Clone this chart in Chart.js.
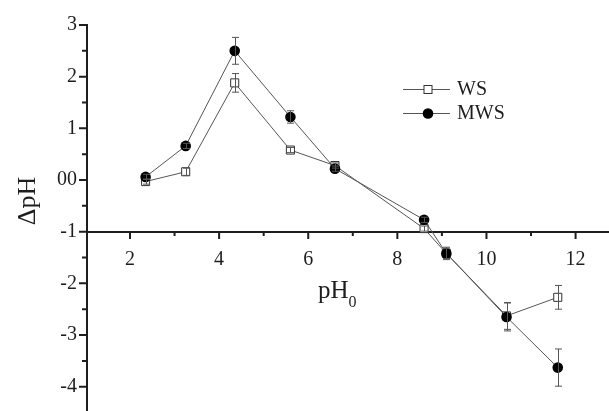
<!DOCTYPE html>
<html>
<head>
<meta charset="utf-8">
<script src="https://cdn.jsdelivr.net/npm/chart.js@4.4.1/dist/chart.umd.min.js"></script>
<style>
  html, body { margin: 0; padding: 0; background: #fff; }
  #wrap { width: 609px; height: 411px; }
</style>
</head>
<body>
<div id="wrap"><canvas id="chart" width="609" height="411"></canvas></div>
<script>
// initial pH vs pH change, with error bars
const pH0 = [2.35, 3.25, 4.35, 5.6, 6.6, 8.6, 9.1, 10.45, 11.6];
const wsValues = [-0.03, 0.16, 1.88, 0.58, 0.28, -0.94, -1.42, -2.63, -2.27];
const wsErrors = [0.05, 0.07, 0.18, 0.05, 0.05, 0.05, 0.1, 0.26, 0.23];
const mwsValues = [0.06, 0.66, 2.5, 1.22, 0.22, -0.77, -1.42, -2.65, -3.63];
const mwsErrors = [0.05, 0.05, 0.26, 0.12, 0.05, 0.05, 0.12, 0.27, 0.36];

const xTicks = [2, 4, 6, 8, 10, 12];
const xMinorTicks = [3, 5, 7, 9, 11];
const yTicks = [-4, -3, -2, -1, 0, 1, 2, 3];
const yTickLabels = ['-4', '-3', '-2', '-1', '00', '1', '2', '3'];
const yMinorTicks = [-3.5, -2.5, -1.5, -0.5, 0.5, 1.5, 2.5];
const seriesNames = ['WS', 'MWS'];

const FONT = "'Liberation Serif', 'Times New Roman', serif";
const INK = '#1e1e1e';
const LINE = '#555';

function toPoints(vals) {
  return pH0.map((x, i) => ({ x, y: vals[i] }));
}

// error bars drawn on top of the markers
const errorBars = {
  id: 'errorBars',
  afterDatasetsDraw(chart) {
    const { ctx, scales: { x, y } } = chart;
    const sets = [[wsValues, wsErrors], [mwsValues, mwsErrors]];
    ctx.save();
    ctx.strokeStyle = LINE;
    ctx.lineWidth = 1;
    sets.forEach(([vals, errs]) => {
      vals.forEach((v, i) => {
        const px = Math.round(x.getPixelForValue(pH0[i])) + 0.5;
        const top = y.getPixelForValue(v + errs[i]);
        const bot = y.getPixelForValue(v - errs[i]);
        ctx.beginPath();
        ctx.moveTo(px, top); ctx.lineTo(px, bot);
        ctx.moveTo(px - 3.5, top); ctx.lineTo(px + 3.5, top);
        ctx.moveTo(px - 3.5, bot); ctx.lineTo(px + 3.5, bot);
        ctx.stroke();
      });
    });
    ctx.restore();
  }
};

function drawMarker(ctx, kind, cx, cy) {
  ctx.save();
  ctx.lineWidth = 1;
  ctx.strokeStyle = '#333';
  if (kind === 'rect') {
    ctx.fillStyle = '#fff';
    ctx.fillRect(cx - 4, cy - 4, 8, 8);
    ctx.strokeRect(cx - 4, cy - 4, 8, 8);
  } else {
    ctx.fillStyle = '#000';
    ctx.beginPath();
    ctx.arc(cx, cy, 5.3, 0, Math.PI * 2);
    ctx.fill();
  }
  ctx.restore();
}

// minor/major tick marks, axis titles, legend
const decorations = {
  id: 'decorations',
  afterDraw(chart) {
    const { ctx, scales: { x, y } } = chart;
    const axisY = Math.round(y.getPixelForValue(-1));
    const axisX = Math.round(x.left);
    ctx.save();
    ctx.strokeStyle = INK;
    ctx.lineWidth = 2;
    ctx.beginPath();
    xTicks.forEach(v => {
      const p = x.getPixelForValue(v);
      ctx.moveTo(p, axisY); ctx.lineTo(p, axisY + 7);
    });
    xMinorTicks.forEach(v => {
      const p = x.getPixelForValue(v);
      ctx.moveTo(p, axisY); ctx.lineTo(p, axisY + 4);
    });
    yTicks.forEach(v => {
      const p = y.getPixelForValue(v);
      ctx.moveTo(axisX, p); ctx.lineTo(axisX - 8, p);
    });
    yMinorTicks.forEach(v => {
      const p = y.getPixelForValue(v);
      ctx.moveTo(axisX, p); ctx.lineTo(axisX - 5, p);
    });
    ctx.stroke();

    // y title
    ctx.fillStyle = INK;
    ctx.font = '26px ' + FONT;
    ctx.textAlign = 'center';
    ctx.textBaseline = 'alphabetic';
    ctx.save();
    ctx.translate(35, 201);
    ctx.rotate(-Math.PI / 2);
    ctx.fillText('\u0394pH', 0, 0);
    ctx.restore();

    // x title with subscript
    ctx.textAlign = 'left';
    ctx.font = '25px ' + FONT;
    ctx.fillText('pH', 318, 298);
    const w = ctx.measureText('pH').width;
    ctx.font = '16px ' + FONT;
    ctx.fillText('0', 318 + w, 307);

    // legend
    const items = [['rect', 89], ['circle', 113]];
    items.forEach(([kind, ly], i) => {
      ctx.strokeStyle = LINE;
      ctx.lineWidth = 1;
      ctx.beginPath();
      ctx.moveTo(403, ly + 0.5); ctx.lineTo(450, ly + 0.5);
      ctx.stroke();
      drawMarker(ctx, kind, 428, ly + 0.5);
      ctx.fillStyle = INK;
      ctx.font = '20px ' + FONT;
      ctx.textBaseline = 'middle';
      ctx.fillText(seriesNames[i], 457, ly + 1);
    });
    ctx.restore();
  }
};

new Chart(document.getElementById('chart'), {
  type: 'scatter',
  data: {
    datasets: [
      {
        label: seriesNames[0],
        data: toPoints(wsValues),
        showLine: true,
        borderColor: LINE,
        borderWidth: 1,
        pointStyle: 'rect',
        pointRadius: 5.7,
        pointBackgroundColor: '#fff',
        pointBorderColor: '#333',
        pointBorderWidth: 1,
        order: 2,
      },
      {
        label: seriesNames[1],
        data: toPoints(mwsValues),
        showLine: true,
        borderColor: LINE,
        borderWidth: 1,
        pointStyle: 'circle',
        pointRadius: 5.3,
        pointBackgroundColor: '#000',
        pointBorderColor: '#000',
        pointBorderWidth: 0,
        order: 1,
      },
    ],
  },
  options: {
    responsive: false,
    animation: false,
    layout: { autoPadding: false, padding: { top: 25, left: 0, right: 0, bottom: 0 } },
    plugins: { legend: { display: false }, tooltip: { enabled: false } },
    scales: {
      x: {
        type: 'linear',
        min: 1.035,
        max: 12.75,
        position: { y: -1 },
        afterBuildTicks: (s) => { s.ticks = xTicks.map(v => ({ value: v })); },
        afterFit: (s) => { s.height = 0; s.paddingLeft = 0; s.paddingRight = 0; },
        grid: { display: false, drawTicks: false },
        border: { display: true, color: INK, width: 2 },
        ticks: {
          color: INK,
          font: { family: FONT, size: 20 },
          padding: 16,
          maxRotation: 0,
          autoSkip: false,
        },
      },
      y: {
        type: 'linear',
        min: -4.47,
        max: 3,
        afterBuildTicks: (s) => { s.ticks = yTicks.map(v => ({ value: v })); },
        afterFit: (s) => { s.width = 87; s.paddingTop = 0; s.paddingBottom = 0; },
        grid: { display: false, drawTicks: false },
        border: { display: true, color: INK, width: 2 },
        ticks: {
          color: INK,
          font: { family: FONT, size: 20 },
          padding: 10,
          autoSkip: false,
          callback: (v) => {
            const i = yTicks.indexOf(v);
            return i >= 0 ? yTickLabels[i] : '';
          },
        },
      },
    },
  },
  plugins: [errorBars, decorations],
});
</script>
</body>
</html>
